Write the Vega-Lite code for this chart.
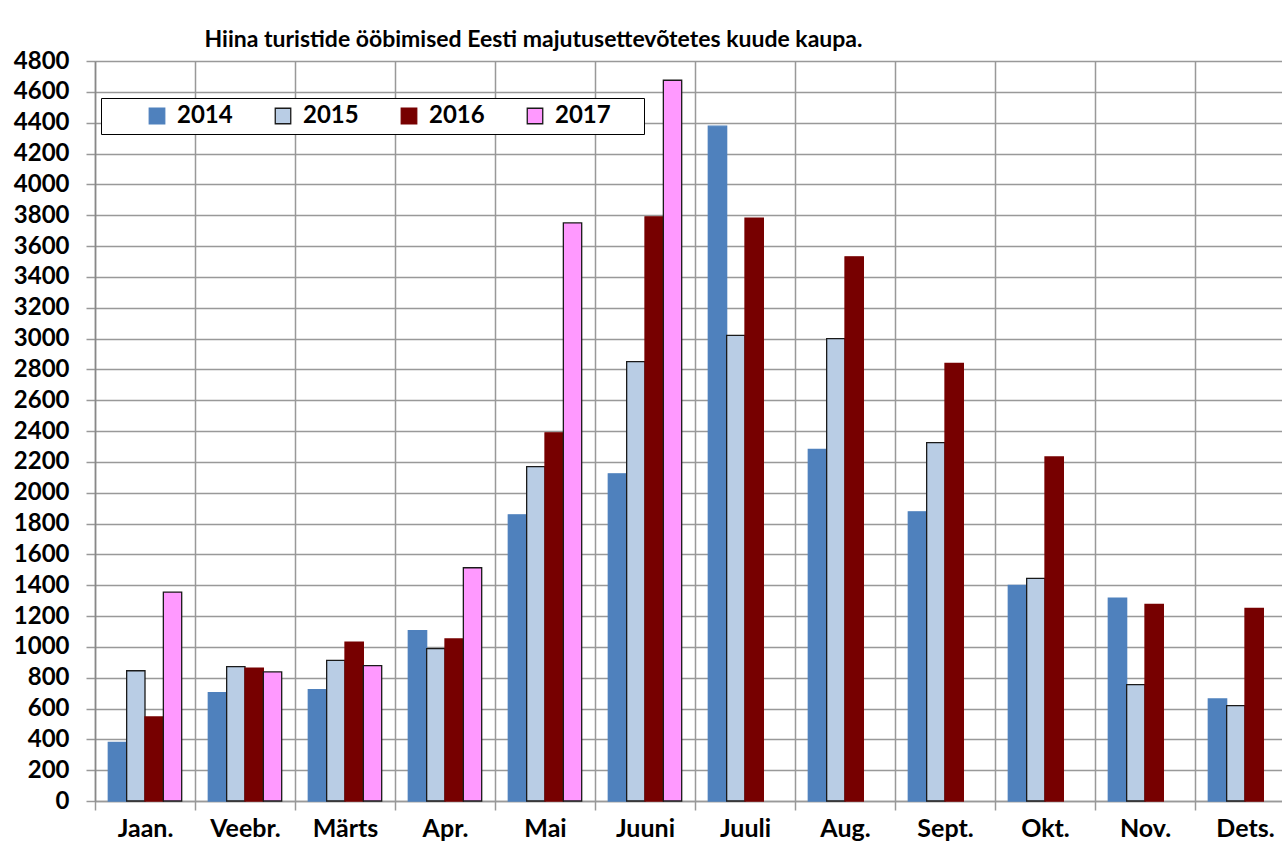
{
  "$schema": "https://vega.github.io/schema/vega-lite/v6.json",
  "width": 1187,
  "height": 740,
  "autosize": {"type": "none"},
  "padding": {"left": 95, "top": 61, "right": 0, "bottom": 42},
  "background": "white",
  "title": {
    "text": "Hiina turistide ööbimised Eesti majutusettevõtetes kuude kaupa.",
    "font": "Lato",
    "fontSize": 23,
    "fontWeight": "bold",
    "color": "black",
    "anchor": "middle",
    "dx": -155,
    "offset": -3
  },
  "data": {
    "values": [
      {"month": "Jaan.", "year": "2014", "value": 380},
      {"month": "Jaan.", "year": "2015", "value": 845},
      {"month": "Jaan.", "year": "2016", "value": 545},
      {"month": "Jaan.", "year": "2017", "value": 1355},
      {"month": "Veebr.", "year": "2014", "value": 703},
      {"month": "Veebr.", "year": "2015", "value": 871},
      {"month": "Veebr.", "year": "2016", "value": 861},
      {"month": "Veebr.", "year": "2017", "value": 837},
      {"month": "Märts", "year": "2014", "value": 722},
      {"month": "Märts", "year": "2015", "value": 912},
      {"month": "Märts", "year": "2016", "value": 1031},
      {"month": "Märts", "year": "2017", "value": 878},
      {"month": "Apr.", "year": "2014", "value": 1105},
      {"month": "Apr.", "year": "2015", "value": 988},
      {"month": "Apr.", "year": "2016", "value": 1051},
      {"month": "Apr.", "year": "2017", "value": 1513},
      {"month": "Mai", "year": "2014", "value": 1856},
      {"month": "Mai", "year": "2015", "value": 2169},
      {"month": "Mai", "year": "2016", "value": 2388},
      {"month": "Mai", "year": "2017", "value": 3750},
      {"month": "Juuni", "year": "2014", "value": 2122},
      {"month": "Juuni", "year": "2015", "value": 2850},
      {"month": "Juuni", "year": "2016", "value": 3789},
      {"month": "Juuni", "year": "2017", "value": 4675},
      {"month": "Juuli", "year": "2014", "value": 4377},
      {"month": "Juuli", "year": "2015", "value": 3020},
      {"month": "Juuli", "year": "2016", "value": 3781},
      {"month": "Aug.", "year": "2014", "value": 2280},
      {"month": "Aug.", "year": "2015", "value": 2999},
      {"month": "Aug.", "year": "2016", "value": 3530},
      {"month": "Sept.", "year": "2014", "value": 1876},
      {"month": "Sept.", "year": "2015", "value": 2325},
      {"month": "Sept.", "year": "2016", "value": 2839},
      {"month": "Okt.", "year": "2014", "value": 1398},
      {"month": "Okt.", "year": "2015", "value": 1444},
      {"month": "Okt.", "year": "2016", "value": 2232},
      {"month": "Nov.", "year": "2014", "value": 1316},
      {"month": "Nov.", "year": "2015", "value": 755},
      {"month": "Nov.", "year": "2016", "value": 1275},
      {"month": "Dets.", "year": "2014", "value": 662},
      {"month": "Dets.", "year": "2015", "value": 619},
      {"month": "Dets.", "year": "2016", "value": 1249}
    ]
  },
  "mark": {"type": "bar", "strokeWidth": 1.3},
  "encoding": {
    "x": {
      "field": "month",
      "type": "nominal",
      "sort": ["Jaan.", "Veebr.", "Märts", "Apr.", "Mai", "Juuni", "Juuli", "Aug.", "Sept.", "Okt.", "Nov.", "Dets."],
      "scale": {"range": [0, 1200], "paddingInner": 0, "paddingOuter": 0},
      "axis": {
        "title": null,
        "labelAngle": 0,
        "labelFont": "Lato",
        "labelFontSize": 25,
        "labelFontWeight": "bold",
        "labelColor": "black",
        "labelPadding": 6,
        "tickBand": "extent",
        "ticks": true,
        "tickSize": 9,
        "tickColor": "#999999",
        "tickWidth": 1.5,
        "grid": true,
        "gridColor": "#999999",
        "gridWidth": 1.5,
        "domainColor": "#999999",
        "domainWidth": 1.5
      }
    },
    "xOffset": {
      "field": "year",
      "type": "nominal",
      "scale": {"domain": ["2014", "2015", "2016", "2017"], "paddingInner": 0, "paddingOuter": 0.725}
    },
    "y": {
      "field": "value",
      "type": "quantitative",
      "scale": {"domain": [0, 4800], "nice": false},
      "axis": {
        "title": null,
        "format": "d",
        "values": [0, 200, 400, 600, 800, 1000, 1200, 1400, 1600, 1800, 2000, 2200, 2400, 2600, 2800, 3000, 3200, 3400, 3600, 3800, 4000, 4200, 4400, 4600, 4800],
        "labelFont": "Lato",
        "labelFontSize": 24,
        "labelFontWeight": "bold",
        "labelColor": "black",
        "labelPadding": 17,
        "tickSize": 9,
        "tickColor": "#999999",
        "tickWidth": 1.5,
        "gridColor": "#999999",
        "gridWidth": 1.5,
        "domainColor": "#888888",
        "domainWidth": 1.5
      }
    },
    "color": {
      "field": "year",
      "type": "nominal",
      "scale": {"domain": ["2014", "2015", "2016", "2017"], "range": ["#4F81BD", "#B9CDE5", "#770000", "#FF99FF"]},
      "legend": {
        "title": " ",
        "titleOrient": "right",
        "titlePadding": 27,
        "titleFontSize": 24,
        "orient": "none",
        "legendX": 6,
        "legendY": 37,
        "direction": "horizontal",
        "symbolType": "square",
        "symbolSize": 240,
        "symbolStrokeWidth": 1.3,
        "symbolOffset": 38,
        "labelFont": "Lato",
        "labelFontSize": 24,
        "labelFontWeight": "bold",
        "labelColor": "black",
        "labelOffset": 8,
        "columnPadding": -3.5,
        "padding": 6,
        "strokeColor": "black",
        "fillColor": "white"
      }
    },
    "stroke": {
      "field": "year",
      "type": "nominal",
      "scale": {"domain": ["2014", "2015", "2016", "2017"], "range": ["#4F81BD", "#1a1a1a", "#770000", "#1a1a1a"]},
      "legend": {
        "title": " ",
        "titleOrient": "right",
        "titlePadding": 27,
        "titleFontSize": 24,
        "orient": "none",
        "legendX": 6,
        "legendY": 37,
        "direction": "horizontal",
        "symbolType": "square",
        "symbolSize": 240,
        "symbolStrokeWidth": 1.3,
        "symbolOffset": 38,
        "labelFont": "Lato",
        "labelFontSize": 24,
        "labelFontWeight": "bold",
        "labelColor": "black",
        "labelOffset": 8,
        "columnPadding": -3.5,
        "padding": 6,
        "strokeColor": "black",
        "fillColor": "white"
      }
    }
  },
  "config": {
    "view": {"stroke": null}
  }
}
